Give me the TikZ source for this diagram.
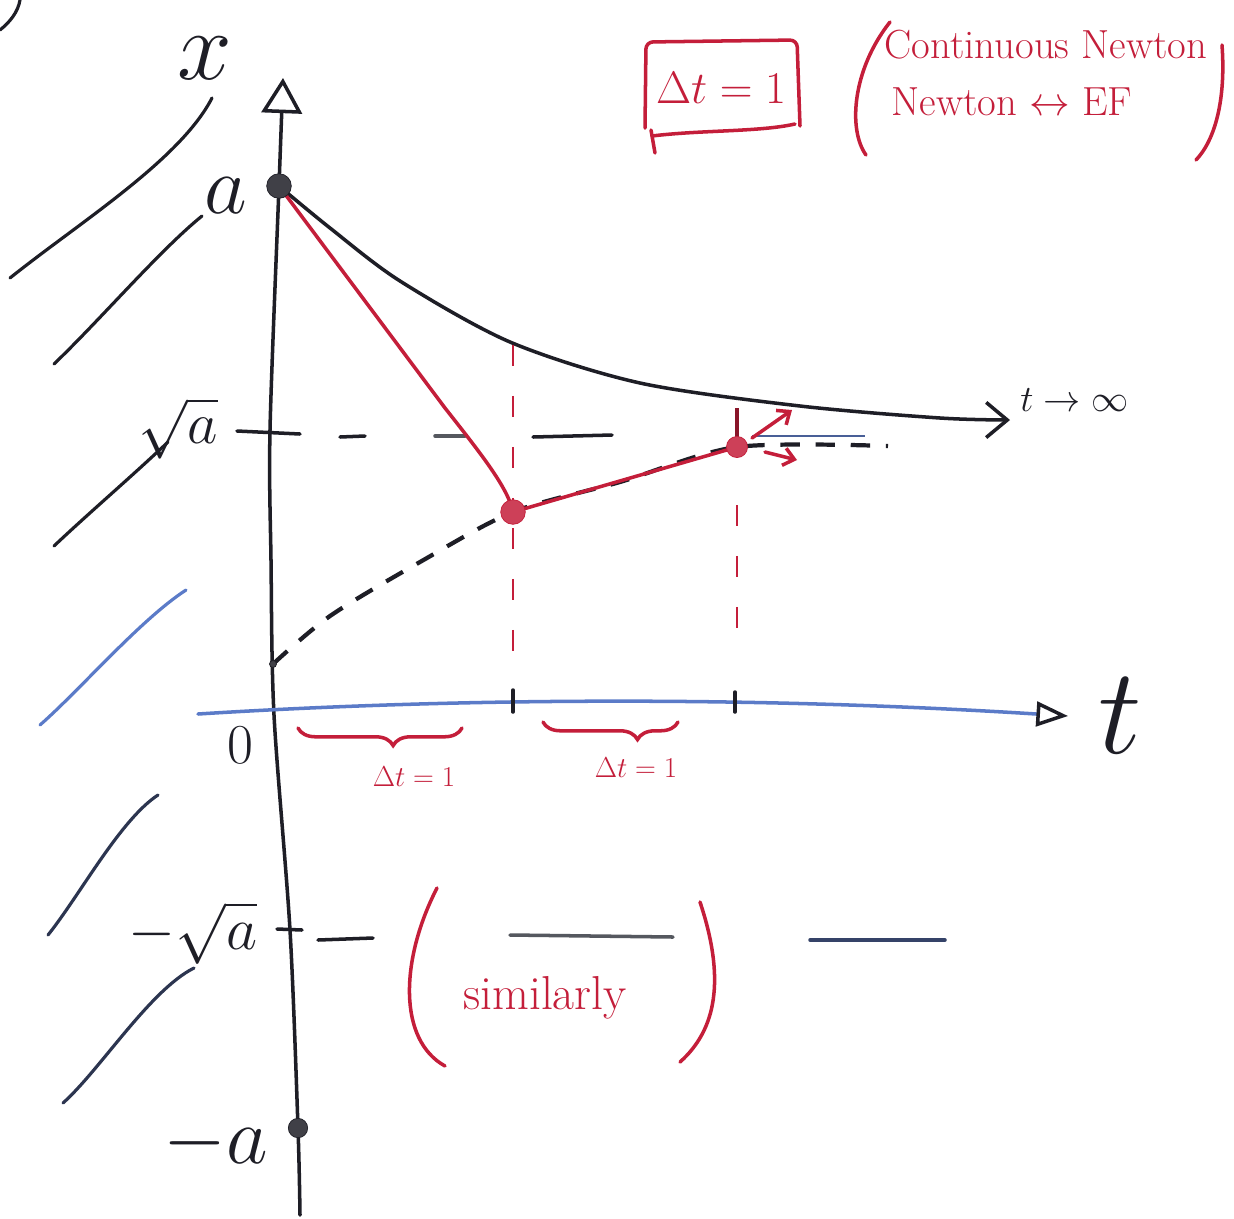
\documentclass[tikz,border=0pt]{standalone}
\usetikzlibrary{arrows.meta,decorations.pathreplacing}
\definecolor{ink}{HTML}{1E1E26}
\definecolor{slate}{HTML}{2C3550}
\definecolor{pen}{HTML}{C41E3A}
\definecolor{blu}{HTML}{5B7BC8}
\definecolor{graypen}{HTML}{55585F}
\newcommand{\sz}[2]{{\Huge\scalebox{#1}{#2}}}
\begin{document}
\begin{tikzpicture}[x=0.02cm,y=-0.02cm,
  inkline/.style={draw=ink,line width=2pt,line cap=round},
  penline/.style={draw=pen,line width=2pt,line cap=round},
  bluline/.style={draw=blu,line width=2pt,line cap=round},
  hatch/.style={draw=ink,line width=1.8pt,line cap=round},
  dashcurve/.style={draw=ink,line width=2.4pt,dash pattern=on 11pt off 9pt},
  reddash/.style={draw=pen,line width=1.6pt,dash pattern=on 12pt off 17pt},
  dotk/.style={circle,fill=ink!85,draw=ink,inner sep=0pt,minimum size=#1},
  dotr/.style={circle,fill=pen!85,draw=pen,inner sep=0pt,minimum size=#1},
  lbl/.style={text=ink,inner sep=0pt},
  rlbl/.style={text=pen,inner sep=0pt}]
\useasboundingbox[fill=white] (0,0) rectangle (1234,1218);

% ---------- left hatch strokes ----------
\draw[hatch] (20,0) .. controls (18,12) and (10,22) .. (0,30);
\draw[hatch] (10,278) .. controls (80,222) and (180,160) .. (212,98);
\draw[hatch] (54,364) .. controls (100,320) and (160,250) .. (202,216);
\draw[hatch] (54,546) .. controls (90,512) and (130,478) .. (168,442);
\draw[hatch,draw=blu] (40,725) .. controls (80,690) and (140,620) .. (186,590);
\draw[hatch,draw=slate] (48,935) .. controls (80,895) and (120,820) .. (158,795);
\draw[hatch,draw=slate] (63,1103) .. controls (100,1070) and (150,990) .. (194,968);

% ---------- key points ----------
\coordinate (A) at (279,186);
\coordinate (mA) at (298,1128);
\coordinate (C0) at (273,664);
\coordinate (P1) at (513,512);
\coordinate (P2) at (737,447);

% ---------- x axis ----------
\draw[inkline,-{Triangle[open,length=20pt,width=23pt,fill=white]}]
  plot[smooth] coordinates {(300,1215) (298,1128) (290,930) (274,715) (271,560) (270,430) (279,186) (283,78)};
\node[lbl] (xl) at (205,58) {\sz{2.25}{$x$}};
\node[lbl] (al) at (226,196) {\sz{1.9}{$a$}};
\node[lbl] (sal) at (178,428) {\sz{1.35}{$\sqrt{a}$}};
\node[lbl] (zl) at (240,745) {\sz{1.29}{$0$}};
\node[lbl] (msal) at (193,933) {\sz{1.38}{$-\sqrt{a}$}};
\node[lbl] (mal) at (216,1143) {\sz{1.85}{$-a$}};

% ---------- t axis ----------
\draw[bluline,-{Triangle[open,length=18pt,width=14pt,color=ink,fill=white]}]
  (198,714) .. controls (420,700) and (720,694) .. (1068,716);
\node[lbl] (tl) at (1120,716) {\sz{2.81}{$t$}};
\draw[inkline] (513,690) -- (513,712);
\draw[inkline] (735,692) -- (735,712);

% ---------- sqrt(a) level ----------
\draw[inkline] (237,431) -- (300,434);
\draw[inkline] (340,437) -- (365,436);
\draw[inkline,draw=graypen] (435,436) -- (465,436);
\draw[inkline] (533,437) -- (612,435);
\draw[line width=1.6pt,draw=blu!70!ink] (752,436) -- (865,436);

% ---------- -sqrt(a) level ----------
\draw[inkline] (277,929) -- (302,930);
\draw[inkline] (318,940) -- (373,938);
\draw[inkline,draw=graypen] (510,935) -- (673,937);
\draw[inkline,draw=slate!80!blu] (810,940) -- (945,940);

% ---------- exact solution (solid) ----------
\coordinate (Tinf) at (1010,420);
\draw[inkline,-{Straight Barb[length=12pt,width=20pt]}]
  plot[smooth] coordinates {(A) (330,228) (400,281) (510,342) (640,383) (800,406) (940,418) (Tinf)};
\node[lbl,anchor=west] (tinf) at (1020,400) {\sz{0.85}{$t\to\infty$}};

% ---------- dashed lower curve ----------
\draw[dashcurve] plot[smooth] coordinates {(C0) (330,616) (420,562) (P1) (620,482) (P2) (888,446)};

% ---------- Newton / EF steps (red) ----------
\draw[penline] (A) -- (445,408) .. controls (482,455) and (508,488) .. (P1);
\draw[penline] (P1) -- (P2);
\draw[reddash] (513,345) -- (513,500);
\draw[reddash] (513,528) -- (513,660);
\draw[reddash] (737,505) -- (737,628);
\draw[line width=2pt,draw=pen!70!black] (737,408) -- (P2);
\draw[penline,-{Straight Barb[length=6pt,width=10pt]}] (752,438) -- (792,410);
\draw[penline,-{Straight Barb[length=6pt,width=10pt]}] (765,452) -- (797,460);

% ---------- dots ----------
\node[dotk=14pt] (Adot) at (A) {};
\node[dotk=11pt] (mAdot) at (mA) {};
\node[dotk=4pt] (C0dot) at (C0) {};
\node[dotr=14pt] (P1dot) at (P1) {};
\node[dotr=12pt] (P2dot) at (P2) {};

% ---------- braces under t axis ----------
\draw[penline,decorate,decoration={brace,amplitude=10pt,aspect=0.42}] (462,728) -- (298,728);
\node[rlbl] (d1) at (414,777) {\sz{0.66}{$\Delta t=1$}};
\draw[penline,decorate,decoration={brace,amplitude=10pt,aspect=0.3}] (678,722) -- (543,722);
\node[rlbl] (d2) at (636,768) {\sz{0.66}{$\Delta t=1$}};

% ---------- top box ----------
\node[rlbl] (box) at (721,88) {\sz{1.04}{$\Delta t=1$}};
\draw[penline,rounded corners=4pt] (645,128) -- (646,42) -- (797,40) -- (800,126);
\draw[penline] (652,136) .. controls (700,130) and (760,132) .. (795,124);
\draw[penline] (651,130) -- (655,153);

\node[rlbl] (cn) at (1046,45) {\sz{0.93}{Continuous Newton}};
\node[rlbl] (ne) at (1012,102) {\sz{0.93}{Newton $\leftrightarrow$ EF}};
\draw[penline] (890,22) .. controls (852,70) and (848,130) .. (866,155);
\draw[penline] (1222,45) .. controls (1226,100) and (1215,140) .. (1196,160);

% ---------- similarly ----------
\node[rlbl] (sim) at (545,998) {\sz{1.09}{similarly}};
\draw[penline] (437,888) .. controls (400,960) and (398,1040) .. (445,1066);
\draw[penline] (700,902) .. controls (726,980) and (716,1030) .. (680,1062);
\end{tikzpicture}
\end{document}
